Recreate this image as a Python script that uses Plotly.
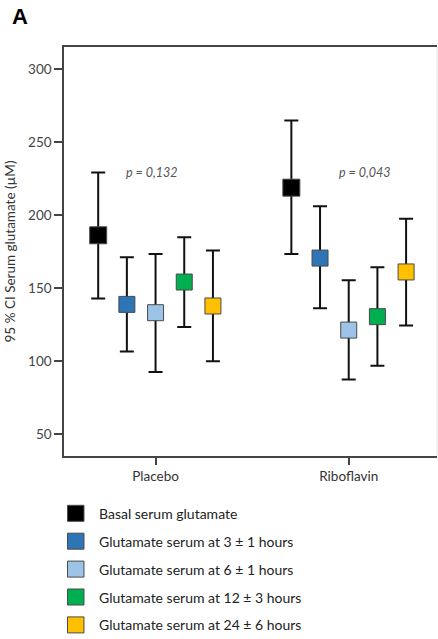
import plotly.graph_objects as go

groups = ["Placebo", "Riboflavin"]
series_names = [
    "Basal serum glutamate",
    "Glutamate serum at 3 ± 1 hours",
    "Glutamate serum at 6 ± 1 hours",
    "Glutamate serum at 12 ± 3 hours",
    "Glutamate serum at 24 ± 6 hours",
]
colors = ["#000000", "#2E75B6", "#9DC3E6", "#00B050", "#FFC000"]

# mean, upper CI, lower CI per series: [Placebo, Riboflavin]
means = [
    [186.1, 218.7],
    [138.8, 170.5],
    [133.1, 121.2],
    [154.1, 130.4],
    [137.7, 161.0],
]
upper = [
    [229.0, 264.6],
    [171.0, 205.9],
    [173.3, 155.3],
    [184.7, 164.2],
    [175.6, 197.5],
]
lower = [
    [142.9, 173.3],
    [106.6, 136.1],
    [92.5, 87.4],
    [123.3, 96.8],
    [99.8, 124.4],
]
p_values = ["p = 0,132", "p = 0,043"]
p_y = 229
y_ticks = [50, 100, 150, 200, 250, 300]

FONT = "Lato"
# plot area in pixels
L, R, T, B = 64, 437.5, 47, 456
W, H = 438, 639
offset = 0.1485

def px(xp):
    return (xp - L) / (R - L)

def py(yp):
    return (B - yp) / (B - T)

fig = go.Figure()
for i, name in enumerate(series_names):
    xs = [g + (i - 2) * offset for g in range(len(groups))]
    fig.add_trace(go.Scatter(
        x=xs, y=means[i], mode="markers", name=name, showlegend=False,
        marker=dict(symbol="square", size=17 if i == 0 else 16, color=colors[i],
                    line=dict(color="#4a4a4a", width=1)),
        error_y=dict(type="data", symmetric=False,
                     array=[u - m for u, m in zip(upper[i], means[i])],
                     arrayminus=[m - l for m, l in zip(means[i], lower[i])],
                     thickness=2, width=7, color="#111111"),
    ))

annotations = []
for g, ptxt in enumerate(p_values):
    annotations.append(dict(x=g + [-0.02, 0.082][g], y=p_y, xref="x", yref="y",
                            text="<i>" + ptxt + "</i>", showarrow=False,
                            font=dict(family=FONT, size=12.5, color="#555555"),
                            xanchor="center", yanchor="middle"))
annotations.append(dict(x=px(10), y=py(17), xref="paper", yref="paper", text="<b>A</b>",
                        showarrow=False, xanchor="left", yanchor="middle",
                        font=dict(family="Liberation Sans", size=22, color="#000")))

shapes = [dict(type="line", xref="paper", yref="paper", x0=1, x1=1, y0=0, y1=1,
               line=dict(color="#e6e6e6", width=1))]
for i, name in enumerate(series_names):
    yc = 513.3 + i * 27.9
    shapes.append(dict(type="rect", xref="paper", yref="paper",
                       x0=px(67.5), x1=px(84), y0=py(yc - 8), y1=py(yc + 8),
                       fillcolor=colors[i], line=dict(color="#4a4a4a", width=1)))
    annotations.append(dict(x=px(97), y=py(yc), xref="paper", yref="paper", text=name,
                            showarrow=False, xanchor="left", yanchor="middle",
                            font=dict(family=FONT, size=14, color="#222222")))

fig.update_layout(
    width=W, height=H,
    margin=dict(l=L, r=W - R, t=T, b=H - B, pad=0),
    plot_bgcolor="white", paper_bgcolor="white",
    annotations=annotations, shapes=shapes,
    font=dict(family=FONT, size=13, color="#444444"),
)
fig.update_xaxes(range=[-0.474, 1.457], tickvals=[0, 1], ticktext=groups,
                 showline=True, linecolor="#444444", linewidth=1.5, mirror=True,
                 ticks="outside", ticklen=7, tickwidth=1.5, tickcolor="#444444",
                 showgrid=False, zeroline=False,
                 tickfont=dict(family=FONT, size=13.5, color="#333333"))
fig.update_yaxes(range=[35, 315], tickvals=y_ticks,
                 showline=True, linecolor="#444444", linewidth=1.5,
                 ticks="outside", ticklen=8, tickwidth=1.5, tickcolor="#444444",
                 showgrid=False, zeroline=False,
                 tickfont=dict(family=FONT, size=13.5, color="#444444"),
                 title=dict(text="95 % CI Serum glutamate (µM)", standoff=9,
                            font=dict(family=FONT, size=13.5, color="#333333")))

fig.write_html("out.html")
